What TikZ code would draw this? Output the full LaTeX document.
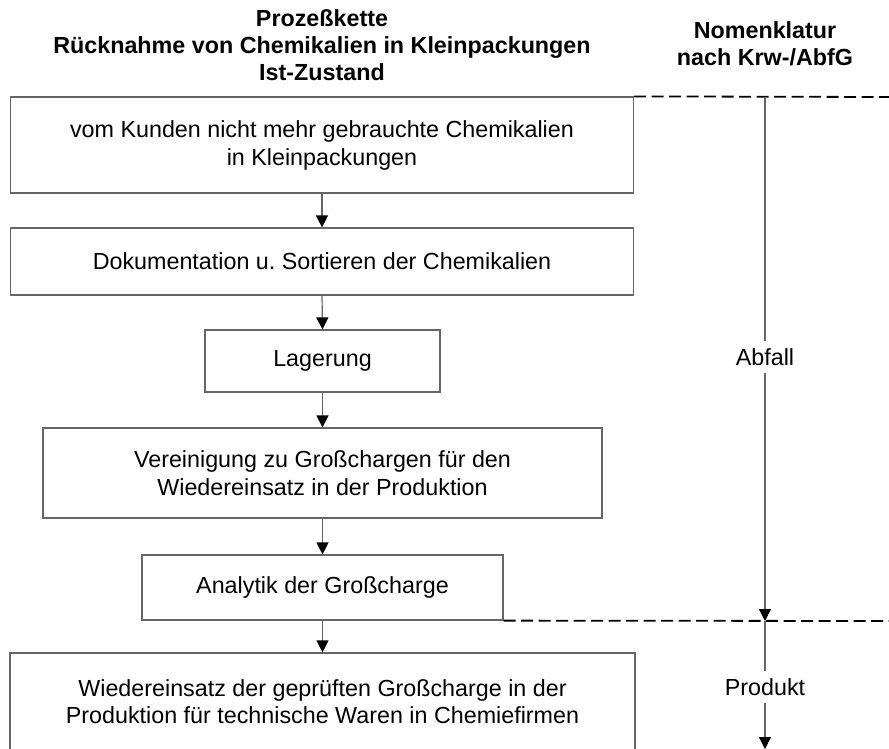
\documentclass[tikz,border=0pt]{standalone}
\usepackage{fontspec}
\setmainfont{Liberation Sans}
\usetikzlibrary{arrows.meta}
\begin{document}
\begin{tikzpicture}[x=1pt,y=-1pt,
  box/.style={draw=black!60, line width=1.2pt, inner sep=0pt, align=center, font=\fontsize{23.3}{28}\selectfont},
  conn/.style={draw=black!60, line width=1.2pt},
  flow/.style={conn, -{Triangle[length=12pt,width=12pt,color=black]}},
  sep/.style={draw=black, line width=1.8pt, dash pattern=on 12pt off 5.5pt},
  lbl/.style={font=\fontsize{23.3}{28}\selectfont, fill=white, inner xsep=2pt, inner ysep=0pt, minimum height=31pt},
  head/.style={font=\bfseries\fontsize{23.3}{27}\selectfont, align=center}
]
\useasboundingbox (0,0) rectangle (889,748);
\clip (0,0) rectangle (889,748);
\fill[white] (0,0) rectangle (889,748);

\node[head] (title) at (322,45) {Prozeßkette\\Rücknahme von Chemikalien in Kleinpackungen\\Ist-Zustand};
\node[head] (nomen) at (765,44) {Nomenklatur\\nach Krw-/AbfG};

\node[box, minimum width=623pt, minimum height=96pt] (b1) at (322,145) {vom Kunden nicht mehr gebrauchte Chemikalien\\in Kleinpackungen};
\node[box, minimum width=623pt, minimum height=67pt] (b2) at (322,261.5) {Dokumentation u.\ Sortieren der Chemikalien};
\node[box, minimum width=235pt, minimum height=62pt] (b3) at (322.5,361) {Lagerung};
\node[box, minimum width=559pt, minimum height=90pt] (b4) at (322.5,473) {Vereinigung zu Großchargen für den\\Wiedereinsatz in der Produktion};
\node[box, minimum width=361pt, minimum height=65pt] (b5) at (322.5,587.5) {Analytik der Großcharge};
\node[box, minimum width=625pt, minimum height=120pt] (b6) at (322.5,713) {};
\node[font=\fontsize{23.3}{27}\selectfont, align=center] (b6t) at (322.5,702) {Wiedereinsatz der geprüften Großcharge in der\\Produktion für technische Waren in Chemiefirmen};

\draw[flow] (b1.south) -- (b2.north);
\draw[flow] (b2.south) -- (b3.north);
\draw[flow] (b3.south) -- (b4.north);
\draw[flow] (b4.south) -- (b5.north);
\draw[flow] (b5.south) -- (b6.north);

\coordinate (sepTR) at (889,97);
\coordinate (sepMR) at (889,621);
\draw[sep] (b1.north east) -- (sepTR);
\draw[sep] (b5.south east) -- (sepMR);

\coordinate (nt) at (765,97);
\coordinate (nm) at (765,621);
\coordinate (nb) at (765,749);
\node[lbl] (abf) at (765,357) {Abfall};
\node[lbl] (prod) at (765,687) {Produkt};
\draw[conn] (nt) -- (abf);
\draw[flow] (abf) -- (nm);
\draw[conn] (nm) -- (prod);
\draw[flow] (prod) -- (nb);
\end{tikzpicture}
\end{document}
